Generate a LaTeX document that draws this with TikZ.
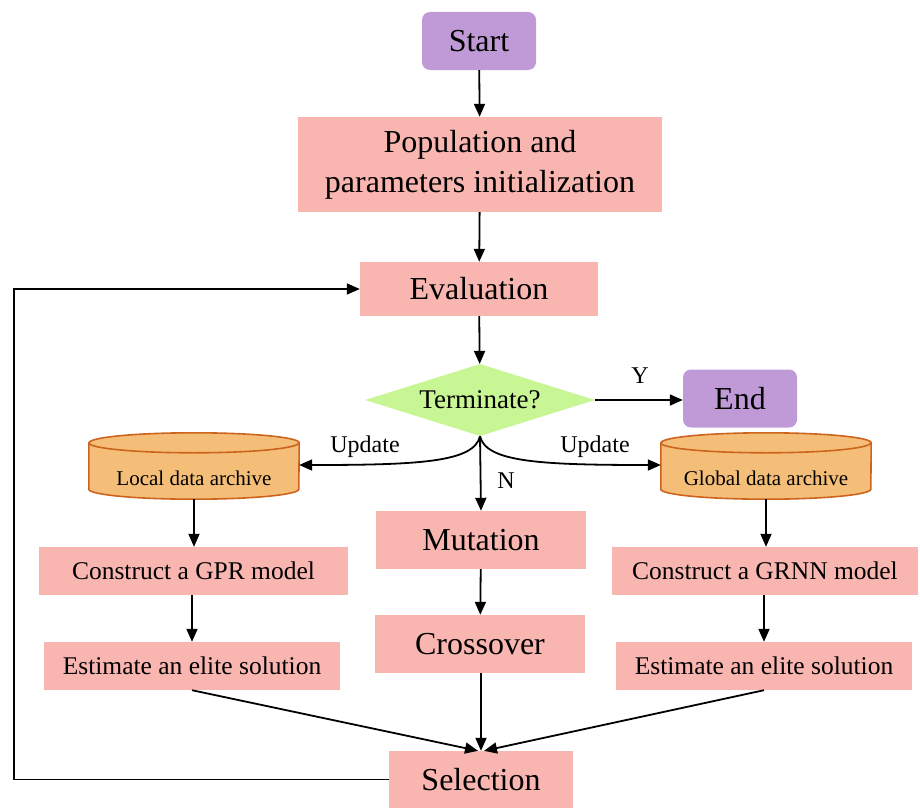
\documentclass[tikz,border=0pt]{standalone}
\usepackage{fontspec}
\setmainfont{Liberation Serif}
\usetikzlibrary{shapes.geometric,arrows.meta}
\definecolor{boxpink}{RGB}{249,182,177}
\definecolor{termpurple}{RGB}{192,154,214}
\definecolor{decgreen}{RGB}{200,246,148}
\definecolor{cylfill}{RGB}{245,190,120}
\definecolor{cylline}{RGB}{205,100,30}
\tikzset{
  big/.style={font=\fontsize{32}{40}\selectfont},
  mid/.style={font=\fontsize{25.5}{30}\selectfont},
  pbox/.style={rectangle, fill=boxpink, inner sep=0pt, align=center},
  term/.style={rectangle, rounded corners=8pt, fill=termpurple, inner sep=0pt, big},
  arr/.style={line width=1.8pt, -{Triangle[length=13pt,width=11pt]}},
  lbl/.style={font=\fontsize{24}{28}\selectfont, inner sep=0pt},
  cylnode/.style={rectangle, inner sep=0pt, minimum width=210pt, minimum height=66pt}
}
\begin{document}
\begin{tikzpicture}[x=1pt,y=-1pt]
\useasboundingbox (0,0) rectangle (920,808);
% terminals and boxes
\node[term, minimum width=114pt, minimum height=58pt] (start) at (479,41) {Start};
\node[pbox, big, minimum width=364pt, minimum height=95pt] (init) at (480,164.5) {Population and\\parameters initialization};
\node[pbox, big, minimum width=238pt, minimum height=54pt] (eval) at (479,289) {Evaluation};
\node[diamond, fill=decgreen, inner sep=0pt, aspect=3.2, minimum width=230pt, minimum height=72pt, font=\fontsize{27}{30}\selectfont] (dec) at (480,400) {Terminate?};
\node[term, minimum width=114pt, minimum height=58pt] (end) at (740,398.5) {End};
\node[pbox, big, minimum width=210pt, minimum height=58pt] (mut) at (481,540) {Mutation};
\node[pbox, big, minimum width=210pt, minimum height=58pt] (cross) at (480,644) {Crossover};
\node[pbox, big, minimum width=184pt, minimum height=57pt] (sel) at (481,779.5) {Selection};
\node[pbox, mid, minimum width=309pt, minimum height=48pt] (gpr) at (193.5,571) {Construct a GPR model};
\node[pbox, mid, minimum width=296pt, minimum height=48pt] (estl) at (192,666) {Estimate an elite solution};
\node[pbox, mid, minimum width=306pt, minimum height=48pt] (grnn) at (765,571) {Construct a GRNN model};
\node[pbox, mid, minimum width=296pt, minimum height=48pt] (estr) at (764,666) {Estimate an elite solution};
% cylinders
\node[cylnode] (loc) at (194,466) {};
\node[cylnode] (glob) at (766,466) {};
\foreach \c in {loc,glob}{
  \path[fill=cylfill, draw=cylline, line width=1.6pt]
    ([yshift=-10pt]\c.north west) -- ([yshift=10pt]\c.south west)
    arc[start angle=180, end angle=360, x radius=105pt, y radius=10pt]
    -- ([yshift=-10pt]\c.north east)
    arc[start angle=0, end angle=180, x radius=105pt, y radius=10pt] -- cycle;
  \draw[cylline, line width=1.6pt] ([yshift=-10pt]\c.north west)
    arc[start angle=180, end angle=360, x radius=105pt, y radius=10pt];
}
\node[font=\fontsize{21}{24}\selectfont, inner sep=0pt] (loct) at (194,478) {Local data archive};
\node[font=\fontsize{21}{24}\selectfont, inner sep=0pt] (globt) at (766,478) {Global data archive};
% connectors
\draw[arr] (start) -- (init);
\draw[arr] (init) -- (eval);
\draw[arr] (eval) -- (dec);
\draw[arr] (dec.east) -- (end.west |- dec.east);
\node[lbl] (ylbl) at (640,376) {Y};
\draw[arr] (dec.south) -- (mut.north);
\node[lbl] (nlbl) at (506,481) {N};
\draw[arr] (dec.south) .. controls +(-6,26) and +(120,0) .. ([yshift=1pt]loc.east);
\draw[arr] (dec.south) .. controls +(6,26) and +(-120,0) .. ([yshift=1pt]glob.west);
\node[lbl] (up1) at (365,447) {Update};
\node[lbl] (up2) at (595,447) {Update};
\draw[arr] (loc.south) -- (gpr.north -| loc.south);
\draw[arr] (gpr.south -| estl.north) -- (estl.north);
\draw[arr] (glob.south) -- (grnn.north -| glob.south);
\draw[arr] (grnn.south -| estr.north) -- (estr.north);
\draw[arr] (mut) -- (cross);
\draw[arr] (cross.south -| sel.north) -- (sel.north);
\draw[arr] (estl.south) -- ([xshift=-3pt]sel.north);
\draw[arr] (estr.south) -- ([xshift=3pt]sel.north);
\draw[arr] (sel.west) -- ++(-375,0) |- (eval.west);
\end{tikzpicture}
\end{document}
